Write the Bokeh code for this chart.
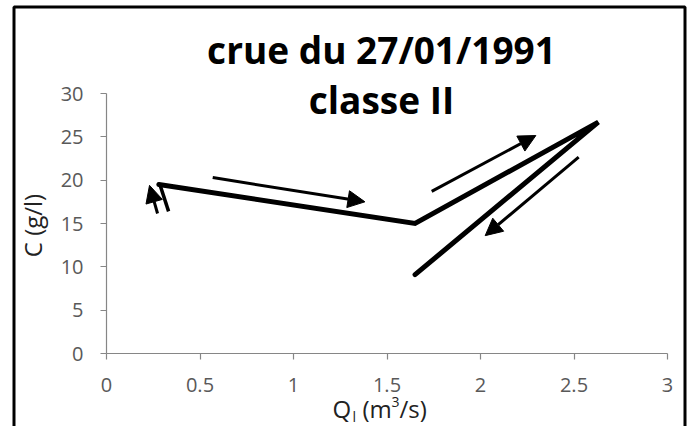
import math
from bokeh.plotting import figure
from bokeh.models import Range1d, Label, Arrow, NormalHead, BoxAnnotation, ColumnDataSource, FixedTicker
from bokeh.embed import file_html
from bokeh.resources import INLINE

# ---- data ----
Q = [0.28, 1.65, 2.63, 1.65]          # m3/s
C = [19.5, 15.0, 26.7, 9.1]           # g/l

arrow_x0 = [0.273, 0.568, 1.739, 2.525]
arrow_y0 = [16.15, 20.3, 18.7, 22.65]
arrow_x1 = [0.230, 1.382, 2.296, 2.025]
arrow_y1 = [19.4, 17.5, 25.15, 13.6]

stroke_x = [0.332, 0.287]
stroke_y = [16.4, 19.4]

x_ticks = [0, 0.5, 1, 1.5, 2, 2.5, 3]
x_tick_labels = ["0", "0.5", "1", "1.5", "2", "2.5", "3"]
y_ticks = [0, 5, 10, 15, 20, 25, 30]
y_tick_labels = ["0", "5", "10", "15", "20", "25", "30"]

title_lines = ["crue du 27/01/1991", "classe II"]
y_label = "C (g/l)"

# ---- layout constants (page pixels) ----
FONT = "Open Sans"
W, H = 688, 426
AX_LEFT, AX_RIGHT = 106, 667      # x = 0 .. 3
AX_BOTTOM, AX_TOP = 353, 93       # y = 0 .. 30
PX_X = (AX_RIGHT - AX_LEFT) / 3.0
PX_Y = (AX_BOTTOM - AX_TOP) / 30.0
MID = 0.39   # baseline -> vertical text centre, in em

def dx(px):
    return (px - AX_LEFT) / PX_X

def dy(py):
    return (AX_BOTTOM - py) / PX_Y

p = figure(width=W, height=H,
           x_range=Range1d(dx(0), dx(W)), y_range=Range1d(dy(H), dy(0)),
           output_backend="svg", toolbar_location=None,
           min_border_left=0, min_border_right=0, min_border_top=0, min_border_bottom=0)
p.outline_line_color = None
p.grid.visible = False
p.background_fill_color = "white"
p.border_fill_color = "white"

xa = p.xaxis[0]
ya = p.yaxis[0]
xa.fixed_location = 0
xa.bounds = (0, 3)
ya.fixed_location = 0
ya.bounds = (0, 30)

for ax in (xa, ya):
    ax.axis_line_color = "#868686"
    ax.axis_line_width = 1.2
    ax.major_tick_line_color = "#868686"
    ax.major_tick_line_width = 1.2
    ax.major_tick_out = 6
    ax.major_tick_in = 0
    ax.minor_tick_line_color = None
    ax.major_label_text_font = FONT
    ax.major_label_text_font_size = "20px"
    ax.major_label_text_color = "#595959"

xa.ticker = FixedTicker(ticks=x_ticks)
xa.major_label_overrides = {t: l for t, l in zip(x_ticks, x_tick_labels)}
xa.major_label_standoff = 18
ya.ticker = FixedTicker(ticks=y_ticks)
ya.major_label_overrides = {t: l for t, l in zip(y_ticks, y_tick_labels)}
ya.major_label_standoff = 17

# main curve
p.line(Q, C, line_width=5, line_color="black", line_join="miter", line_cap="round")

# short stroke next to the left arrow
p.line(stroke_x, stroke_y, line_width=3.5, line_color="black")

# arrows
asrc = ColumnDataSource(dict(x0=arrow_x0, y0=arrow_y0, x1=arrow_x1, y1=arrow_y1))
p.add_layout(Arrow(x_start="x0", y_start="y0", x_end="x1", y_end="y1", source=asrc,
                   line_width=3, line_color="black",
                   end=NormalHead(size=17, fill_color="black", line_color="black", line_width=1)))

# title (centred vertically on the text)
for txt, py in zip(title_lines, [63, 113]):
    p.add_layout(Label(x=dx(381), y=dy(py - MID * 37), text=txt,
                       text_font=FONT, text_font_style="bold", text_font_size="37px",
                       text_align="center", text_baseline="middle", text_color="black"))

# y axis title (rotated; its baseline sits at page x = 41)
p.add_layout(Label(x=dx(41 - MID * 24), y=dy(225), text=y_label,
                   angle=math.pi / 2, text_font=FONT, text_font_size="24px",
                   text_align="center", text_baseline="middle", text_color="#222222"))

# x axis title: Q_l (m^3/s)
pieces = [("Q", 332, 417, 24), ("l", 352, 421, 14), ("(m", 362, 417, 24),
          ("3", 391, 407, 14), ("/s)", 399, 417, 24)]
for txt, px, py, fs in pieces:
    p.add_layout(Label(x=dx(px), y=dy(py - MID * fs), text=txt,
                       text_font=FONT, text_font_size=f"{fs}px", text_align="left",
                       text_baseline="middle", text_color="#222222"))

# outer chart border
p.add_layout(BoxAnnotation(left=dx(13.5), right=dx(684.5), top=dy(6.5), bottom=dy(470),
                           fill_alpha=0, line_color="black", line_alpha=1, line_width=3))

open("out.html", "w").write(file_html(p, INLINE))
